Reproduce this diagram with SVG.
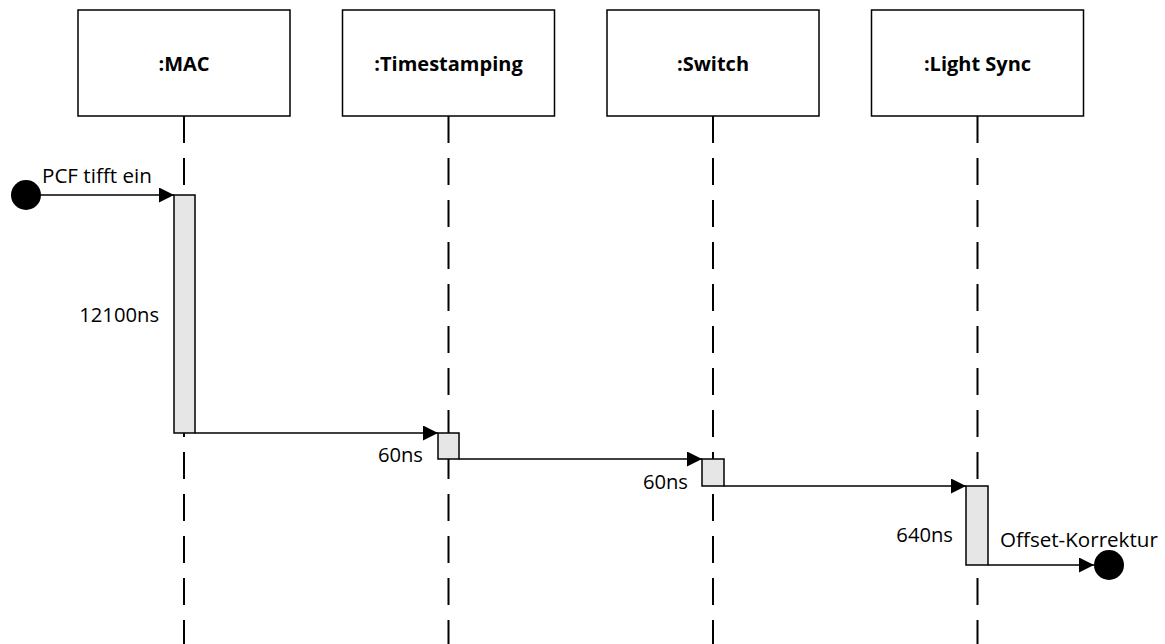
<svg xmlns="http://www.w3.org/2000/svg" width="1165" height="644" viewBox="0 0 1165 644">
  <style>
    .head { fill: #ffffff; stroke: #000000; stroke-width: 1.5; }
    .title { font-family: "Open Sans", "Noto Sans", sans-serif; font-weight: bold; font-size: 20px; text-anchor: middle; fill: #000000; }
    .life { stroke: #000000; stroke-width: 2; stroke-dasharray: 27 15; fill: none; }
    .act { fill: #e6e6e6; stroke: #000000; stroke-width: 1.5; }
    .lbl { font-family: "Open Sans", "Noto Sans", sans-serif; font-size: 20.6px; fill: #000000; }
    .dur { font-family: "Open Sans", "Noto Sans", sans-serif; font-size: 20.2px; fill: #000000; text-anchor: end; }
    .msg { stroke: #000000; stroke-width: 1.5; fill: none; marker-end: url(#arrow); }
    .dot { fill: #000000; }
  </style>
  <defs>
    <marker id="arrow" viewBox="0 0 15 15" refX="15" refY="7.5" markerWidth="15" markerHeight="15" markerUnits="userSpaceOnUse" orient="auto">
      <path d="M0,0 L15,7.5 L0,15 Z" fill="#000000"/>
    </marker>
  </defs>

  <rect width="1165" height="644" fill="#ffffff"/>

  <!-- lifeline: MAC -->
  <g id="mac">
    <rect class="head" x="78" y="10" width="212" height="106"/>
    <text class="title" x="184" y="71">:MAC</text>
    <line class="life" x1="184" y1="116" x2="184" y2="644"/>
    <rect class="act" x="174" y="195" width="21" height="238"/>
    <text class="dur" x="159" y="322">12100ns</text>
  </g>

  <!-- lifeline: Timestamping -->
  <g id="timestamping">
    <rect class="head" x="342.5" y="10" width="212" height="106"/>
    <text class="title" x="448.5" y="71">:Timestamping</text>
    <line class="life" x1="448.5" y1="116" x2="448.5" y2="644"/>
    <rect class="act" x="438" y="433" width="21" height="26"/>
    <text class="dur" x="423" y="462">60ns</text>
  </g>

  <!-- lifeline: Switch -->
  <g id="switch">
    <rect class="head" x="607" y="10" width="212" height="106"/>
    <text class="title" x="713" y="71">:Switch</text>
    <line class="life" x1="713" y1="116" x2="713" y2="644"/>
    <rect class="act" x="702" y="459" width="22" height="27"/>
    <text class="dur" x="688" y="489">60ns</text>
  </g>

  <!-- lifeline: Light Sync -->
  <g id="light-sync">
    <rect class="head" x="871.5" y="10" width="212" height="106"/>
    <text class="title" x="977.5" y="71">:Light Sync</text>
    <line class="life" x1="977.5" y1="116" x2="977.5" y2="644"/>
    <rect class="act" x="966" y="486" width="22" height="79"/>
    <text class="dur" x="953" y="542">640ns</text>
  </g>

  <!-- messages -->
  <g id="connectors">
    <circle class="dot" cx="26" cy="195" r="15"/>
    <path class="msg" d="M26,195 H174"/>
    <text class="lbl" x="42" y="183">PCF tifft ein</text>
    <path class="msg" d="M195,433 H438"/>
    <path class="msg" d="M459,459 H702"/>
    <path class="msg" d="M724,486 H966"/>
    <path class="msg" d="M988,565 H1094"/>
    <circle class="dot" cx="1109" cy="565" r="15"/>
    <text class="lbl" x="1000" y="547">Offset-Korrektur</text>
  </g>
</svg>
